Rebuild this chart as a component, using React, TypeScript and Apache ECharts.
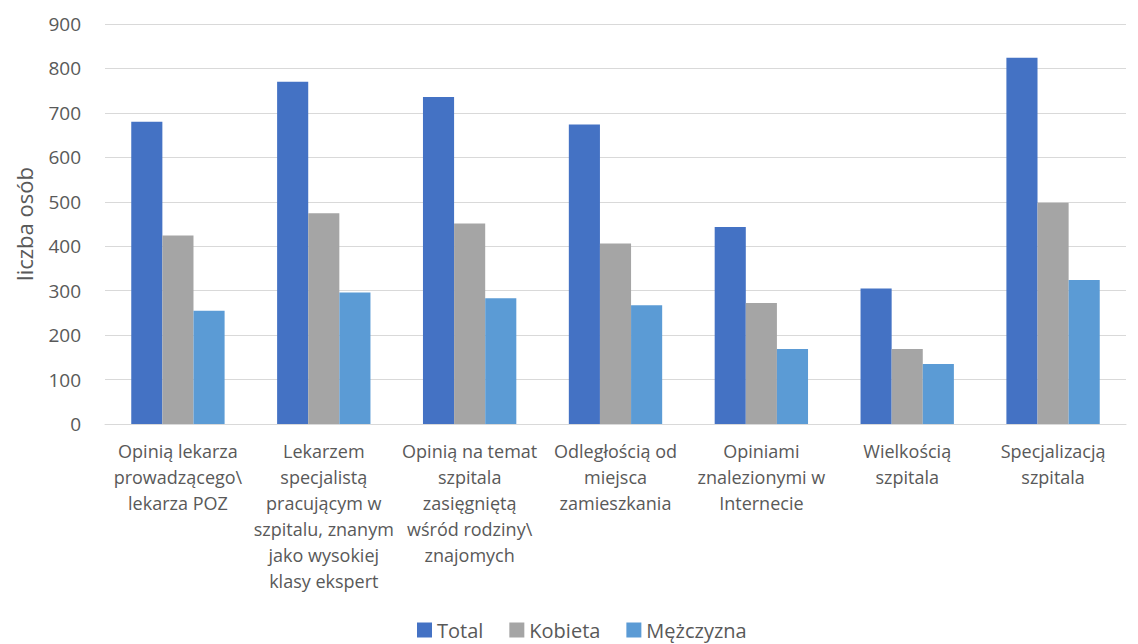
import React, { useEffect, useRef } from "react";
import * as echarts from "echarts";

const categories = [
  "Opinią lekarza\nprowadzącego\\\nlekarza POZ",
  "Lekarzem\nspecjalistą\npracującym w\nszpitalu, znanym\njako wysokiej\nklasy ekspert",
  "Opinią na temat\nszpitala\nzasięgniętą\nwśród rodziny\\\nznajomych",
  "Odległością od\nmiejsca\nzamieszkania",
  "Opiniami\nznalezionymi w\nInternecie",
  "Wielkością\nszpitala",
  "Specjalizacją\nszpitala",
];

const total = [680, 770, 736, 674, 443, 305, 824];
const kobieta = [424, 474, 451, 406, 272, 169, 498];
const mezczyzna = [255, 296, 283, 267, 169, 135, 324];

const seriesNames = ["Total", "Kobieta", "Mężczyzna"];
const colors = ["#4472c4", "#a5a5a5", "#5b9bd5"];
const yAxisName = "liczba osób";

const FONT = "'Open Sans', 'Noto Sans', sans-serif";

export default function App() {
  const ref = useRef<HTMLDivElement>(null);
  useEffect(() => {
    if (!ref.current) return;
    const chart = echarts.init(ref.current, undefined, { renderer: "svg" });
    const data = [total, kobieta, mezczyzna];
    chart.setOption({
      animation: false,
      backgroundColor: "#ffffff",
      textStyle: { fontFamily: FONT },
      grid: { left: 105, right: 12, top: 24, bottom: 220, containLabel: false },
      legend: {
        bottom: -1,
        left: 412,
        icon: "rect",
        itemWidth: 15,
        itemHeight: 15,
        itemGap: 26,
        textStyle: { fontSize: 20, color: "#595959", fontFamily: FONT },
        data: seriesNames,
      },
      xAxis: {
        type: "category",
        data: categories,
        axisLine: { show: true, lineStyle: { color: "#d9d9d9", width: 1 } },
        axisTick: { show: false },
        axisLabel: {
          interval: 0,
          color: "#595959",
          fontSize: 18,
          lineHeight: 26,
          margin: 14,
          fontFamily: FONT,
        },
      },
      yAxis: {
        type: "value",
        min: 0,
        max: 900,
        interval: 100,
        name: yAxisName,
        nameLocation: "middle",
        nameGap: 70,
        nameRotate: 90,
        nameTextStyle: { fontSize: 22, color: "#595959", fontFamily: FONT },
        axisLine: { show: false },
        axisTick: { show: false },
        axisLabel: { color: "#595959", fontSize: 19, margin: 24, fontFamily: FONT },
        splitLine: { lineStyle: { color: "#d9d9d9", width: 1 } },
      },
      series: seriesNames.map((name, i) => ({
        name,
        type: "bar",
        data: data[i],
        barGap: "0%",
        barCategoryGap: "36%",
        itemStyle: { color: colors[i] },
      })),
    });
    return () => chart.dispose();
  }, []);
  return (
    <div
      ref={ref}
      style={{ position: "fixed", left: 0, top: 0, width: 1138, height: 644 }}
    />
  );
}
